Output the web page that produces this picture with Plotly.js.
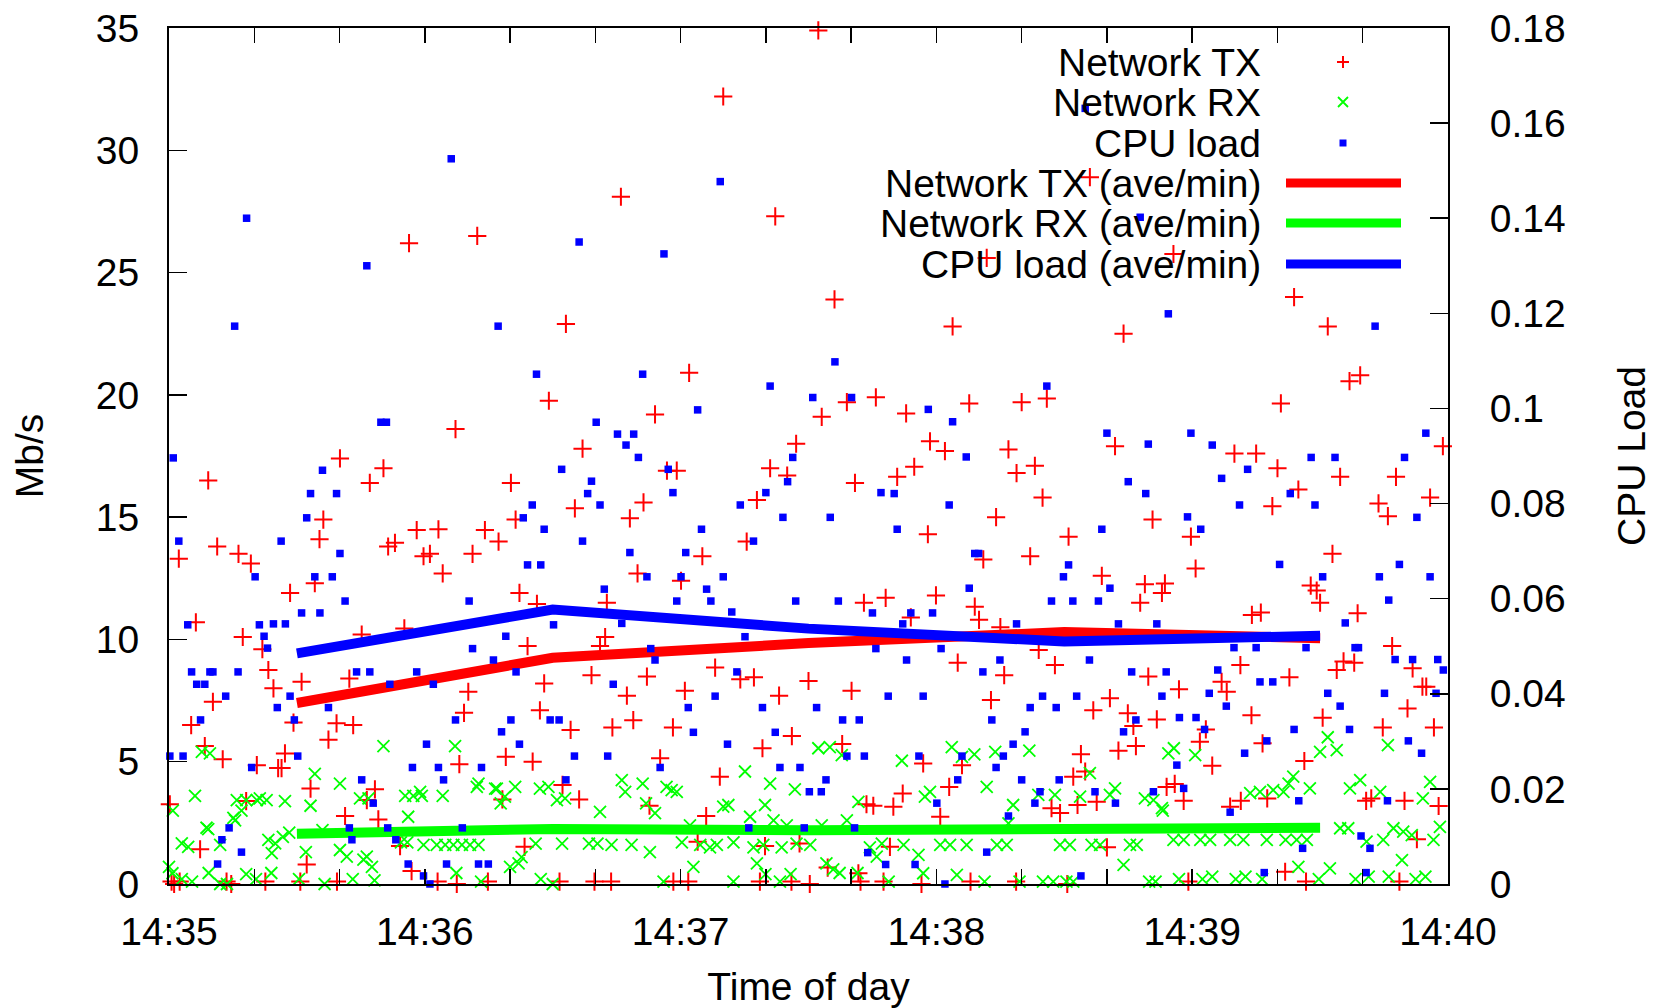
<!DOCTYPE html>
<html>
<head>
<meta charset="utf-8">
<script src="https://cdn.plot.ly/plotly-3.0.1.min.js"></script>
<style>html,body{margin:0;padding:0;background:#fff;}#chart{width:1653px;height:1008px;}</style>
</head>
<body>
<div id="chart"></div>
<script>
// ---- data (seconds after 14:35:00, value) ----
const txPoints = [
[0.2,3.26],[0.6,0.1],[1.2,0],[2.3,13.3],[2.5,0.1],[5.2,6.5],[6.3,10.7],[7.3,1.42],[8.4,5.64],[9.2,16.5],[10.3,7.45],[11.3,13.8],[12.6,5.1],[13.5,0.1],[14.6,0],[16.3,13.5],[17.3,10.1],[18.1,3.39],[19.2,13.1],[20.6,4.86],[21.9,9.6],[22.6,0.1],[23.3,8.75],[24.5,8.0],[25.6,4.74],[26.4,4.74],[27.2,5.34],[28.4,11.9],[29.2,6.6],[30.8,0.1],[31.1,8.27],[32.3,0.8],[33.2,3.9],[34.2,12.3],[35.3,14.1],[36.2,14.9],[37.4,5.9],[39.3,6.57],[39.4,0.1],[40.1,17.4],[41.3,2.78],[42.3,8.4],[43.2,6.5],[45.2,10.2],[46.4,3.43],[47.1,16.4],[48.3,3.87],[49.1,2.64],[50.3,17.0],[51.4,13.8],[53.0,13.95],[54.2,1.55],[55.2,10.45],[56.3,26.2],[56.9,0.53],[58.1,14.47],[59.7,13.4],[61.2,13.5],[63.0,0.1],[63.2,14.5],[64.2,12.7],[67.2,18.6],[67.5,0],[68.1,4.9],[69.2,7.0],[70.2,7.86],[71.2,13.5],[72.3,26.5],[74.1,14.47],[74.8,0.1],[77.3,14.0],[78.2,3.46],[79.0,5.2],[80.2,16.4],[81.3,14.9],[82.2,11.9],[83.4,1.52],[84.1,9.73],[85.3,5.0],[86.3,11.45],[87.0,7.1],[88.0,8.2],[89.1,19.76],[91.6,0.1],[92.3,4.05],[93.1,22.9],[94.2,6.3],[95.2,15.36],[96.2,3.46],[97.0,17.8],[99.1,8.54],[99.8,0.1],[101.1,9.73],[102.3,10.1],[102.7,11.5],[103.7,0.1],[104.0,6.4],
[106.0,28.1],[107.4,7.7],[108.1,14.95],[108.9,6.7],[109.9,12.7],[111.3,15.6],[112.1,8.48],[112.7,3.2],[114.0,19.2],[115.2,5.14],[116.8,16.9],[118.2,6.4],[118.3,0.1],[119.1,16.9],[120.1,12.4],[121.0,7.9],[121.8,0.1],[122.0,20.9],[124.0,1.73],[125.1,13.4],[126.0,2.78],[128.1,8.85],[129.2,4.39],[130.0,32.2],[134.0,8.37],[135.5,14.0],[137.2,8.45],[137.9,15.7],[138.6,0.1],[139.2,5.55],[139.8,1.55],[141.0,17.0],[142.2,27.3],[143.1,7.7],[145.0,16.7],[146.0,0.1],[146.1,6.05],[147.1,18.0],[147.9,1.66],[150.0,8.3],[150.3,0],[152.3,34.9],[153.1,19.1],[154.5,0.67],[156.1,23.9],[157.9,5.72],[159.0,19.7],[160.1,7.9],[160.9,16.4],[161.7,0.44],[162.2,0.1],[163.0,11.5],[163.6,3.26],[165.2,3.2],[165.8,19.9],[167.6,0.1],[168.1,11.7],
[169.1,1.52],[169.9,3.16],[170.8,16.65],[172.1,3.7],[172.9,19.24],[174.0,10.9],[174.8,17.06],[176.5,0],[176.9,4.93],[178.0,14.3],[178.5,18.1],[179.9,11.8],[180.9,2.75],[182.0,17.7],[183.0,3.97],[183.8,22.8],[185.0,9.05],[186.0,4.86],[187.7,19.65],[188.0,0.1],[189.0,11.34],[190.0,10.8],[191.0,13.27],[191.8,25.6],[192.8,7.52],[194.0,15.0],[195.0,10.5],[195.9,8.54],[196.9,17.77],[198.7,0.1],[198.8,16.8],[200.0,19.7],[202.0,13.4],[203.1,17.1],[204.0,9.57],[204.9,15.8],[205.9,19.85],[207.0,3.1],[207.8,8.95],[209.0,2.9],[210.7,0],[211.0,14.2],[212.1,4.39],[213.1,3.23],[213.9,5.31],[214.9,4.6],[216.0,28.9],[216.8,7.1],[217.6,3.36],[218.8,12.6],[220.0,1.5],[220.7,7.6],[221.9,17.9],[222.7,5.45],[223.9,22.5],[224.9,6.98],[226.2,6.46],[226.8,5.64],[227.8,11.5],[228.9,12.26],[229.7,8.48],[230.7,14.9],[231.7,6.73],[232.9,11.9],[233.6,12.29],[234.0,3.97],[235.6,25.76],
[235.9,4.09],[236.9,7.96],[238.0,3.4],[239.1,0.1],[239.7,14.2],[240.8,12.9],[241.8,5.82],[243.2,6.32],[244.7,4.84],[246.9,8.27],[248.1,7.86],[248.9,3.16],[249.9,17.6],[251.3,8.95],[251.4,3.4],[253.9,6.9],[254.0,11.0],[255.0,17.6],[256.1,11.1],[256.5,5.75],[257.6,3.5],[258.8,15.45],[260.0,17.0],[260.8,19.65],[261.8,0.5],[262.8,8.45],[263.9,24.0],[264.9,16.13],[266.3,5.03],[266.7,0.1],[267.8,12.2],[269.2,12.0],[270.0,11.5],[270.6,6.8],[271.8,22.8],[272.9,13.5],[273.9,8.75],[274.7,16.65],[275.5,9.1],[276.9,20.56],[278.0,9.05],[278.8,11.07],[279.4,20.8],[280.8,3.4],[282.0,3.5],[283.7,15.56],[284.7,6.4],[285.9,15.04],[286.9,9.73],[287.8,16.65],[288.6,0.1],[289.8,3.4],[290.5,7.18],[291.7,8.82],[292.7,1.83],[294.0,8.07],[294.9,8.07],[295.8,15.8],[296.7,6.4],[297.8,3.19],[298.8,17.9]
];

const rxPoints = [
[0,0.7],[0.8,0.44],[0.9,3.0],[3.0,0.2],[3.0,1.66],[4.5,1.52],[5.4,0.1],[6.1,3.6],[7.7,5.4],[8.8,2.3],[9.2,2.24],[9.3,0.45],[9.6,5.34],[12.0,1.6],[12.0,0],[13.6,0],[15.1,2.7],[15.5,2.6],[15.9,3.43],[17.0,3.0],[18.1,3.43],[18.1,0.4],[20.4,0.2],[20.6,3.43],[21.3,3.5],[22.9,3.43],[23.3,1.8],[24.0,0.45],[24.1,1.26],[24.9,1.66],[26.7,1.93],[27.2,3.39],[28.2,2.1],[30.5,0.2],[32.1,1.3],[33.2,3.2],[34.2,4.5],[36.0,2.2],[36.5,0],[40.1,4.1],[40.1,1.39],[41.7,1.12],[43.1,0.2],[44.8,3.5],[45.6,1.0],[46.4,1.12],[46.8,3.5],[47.6,0.7],[48.2,0.15],[50.3,5.64],[54.4,1.7],[55.4,3.6],[55.9,1.7],[56.1,2.75],[57.3,3.6],[58.9,3.77],[59.3,3.6],[59.7,1.6],[62.8,1.6],[64.2,3.6],[64.8,1.6],[66.7,1.6],[67.1,5.64],[67.4,0.45],[68.7,1.6],[70.6,1.6],[72.2,3.97],[72.6,1.6],[72.6,4.1],[73.2,0.1],[76.5,3.9],[76.9,3.9],[77.8,3.3],[78.8,3.57],[80.0,0.7],[81.2,3.97],[82.0,0.84],[82.7,1.1],[86.0,1.65],[87.0,3.9],[87.2,0.2],[89.0,3.97],[90.0,0],[91.0,3.43],[92.2,1.65],[92.9,3.5],[98.5,1.65],[100.5,1.65],[101.1,2.95],
[103.8,1.6],[106.2,4.25],[107.0,3.77],[108.5,1.6],[111.1,4.1],[111.9,3.3],[112.8,1.3],[114.0,2.9],[116.0,0.1],[116.7,3.97],[117.9,3.84],[119.1,3.77],[120.3,1.7],[122.2,2.4],[123.0,0.7],[124.6,1.6],[126.9,1.5],[128.5,1.6],[130.0,3.16],[131.2,3.23],[132.4,1.7],[132.4,0.1],[135.1,4.6],[136.3,2.75],[137.1,1.5],[137.9,0.84],[139.4,1.6],[139.8,3.23],[139.9,0.4],[141.0,4.1],[141.8,2.6],[143.3,0.1],[143.7,1.5],[144.9,2.4],[145.8,0.4],[146.8,3.87],[147.2,1.65],[150.4,1.6],[152.3,5.55],[153.1,2.4],[154.2,0.84],[155.0,5.6],[155.8,0.6],[157.3,0.45],[157.8,5.27],[159.0,2.6],[161.5,0.45],[161.7,3.36],[164.4,1.5],[166.0,1.12],[167.2,1.65],[168.8,0.1],
[171.9,5.04],[172.3,1.6],[175.8,1.19],[176.9,0.44],[177.3,3.57],[178.5,3.77],[180.9,1.6],[183.2,1.6],[183.6,5.6],[184.8,0.37],[186.0,5.2],[187.1,1.6],[188.9,5.3],[191.3,0.1],[191.8,3.97],[193.8,5.4],[194.2,1.6],[196.5,1.6],[196.9,2.48],[198.0,3.23],[199.5,0.1],[201.8,5.45],[203.9,3.64],[205.0,0.1],[207.4,0.1],[207.8,3.64],[209.0,1.6],[210.5,0.1],[211.3,1.6],[212.1,0.1],[213.7,3.57],[216.0,4.53],[216.4,1.6],[218.4,1.6],[220.7,3.64],[221.9,3.91],[223.9,0.78],[225.4,1.6],[227.0,1.6],[228.9,3.5],[229.9,0.1],[230.9,3.43],[231.4,0.1],[232.9,3.1],[233.1,3.0],[234.4,5.34],
[235.6,1.8],[235.7,5.55],[236.9,0.2],[238.0,1.8],[240.7,5.27],[241.9,1.8],[242.4,0.2],[244.2,1.8],[244.7,0.3],[248.9,1.8],[250.2,0.2],[252.0,1.8],[252.5,0.3],[253.6,3.72],[255.9,3.77],[256.4,0.2],[257.5,1.8],[259.0,3.84],[261.4,3.77],[261.9,1.8],[262.6,4.1],[263.7,4.39],[264.5,1.8],[264.9,0.7],[266.9,1.8],[267.6,3.91],[269.7,0.2],[270.0,5.4],[271.8,6.0],[272.3,0.64],[273.9,5.47],[274.7,2.28],[276.6,2.28],[277.0,3.91],[278.3,0.2],[279.4,4.25],[280.9,1.73],[281.4,0.3],[284.1,3.77],[284.8,1.8],[285.9,5.68],[286.1,0.3],[287.2,2.28],[289.2,0.98],[289.5,2.14],[291.5,2.0],[292.4,0.2],[294.1,3.5],[294.7,0.3],[295.8,4.18],[296.6,1.8],[298.1,2.34]
];

const cpuPoints = [
[0.2,0.0269],[1.0,0.0896],[2.3,0.0721],[3.3,0.0269],[4.4,0.0545],[5.3,0.0446],[6.5,0.042],[7.4,0.0345],[8.4,0.042],[9.6,0.0446],[10.3,0.0446],[11.4,0.0042],[12.4,0.0093],[13.3,0.0395],[14.1,0.0118],[15.4,0.1173],[16.2,0.0446],[17.0,0.0067],[18.2,0.140],[19.4,0.0245],[20.2,0.0646],[21.2,0.0545],[22.3,0.0521],[23.1,0.0496],[24.5,0.0547],[25.4,0.0371],[26.3,0.0721],[27.3,0.0547],[28.4,0.0395],[29.4,0.0345],[30.2,0.0269],[31.1,0.057],[32.3,0.077],[33.2,0.0821],[34.2,0.0646],[35.4,0.057],[36.0,0.087],[37.4,0.0371],[38.3,0.0646],[39.3,0.0821],[40.1,0.0695],[41.3,0.0595],[42.3,0.0118],[42.9,0.0093],[44.0,0.0446],[45.2,0.0219],[46.4,0.130],[47.1,0.0446],[47.9,0.017],[49.7,0.0971],[51.0,0.0971],[51.3,0.0118],[51.8,0.042],[53.2,0.0093],[56.1,0.0042],[57.1,0.0245],[58.1,0.0446],[59.7,0.0017],[60.4,0.0294],[61.2,0],[62.0,0.042],[63.2,0.0245],[64.4,0.0219],[65.1,0.0042],[66.2,0.1525],[67.2,0.0345],[68.8,0.0118],[70.4,0.0595],[71.2,0.0495],[72.6,0.0042],[73.3,0.0245],[74.9,0.0042],[76.1,0.0471],[77.2,0.1173],[78.0,0.032],[79.0,0.0521],[80.2,0.0345],[81.4,0.0446],[82.2,0.0294],[83.1,0.077],[84.1,0.0671],[85.2,0.0797],[86.2,0.1072],[87.2,0.0671],[88.0,0.0746],[89.4,0.0345],[90.2,0.0545],[91.5,0.0345],[92.1,0.0872],[93.1,0.0219],[95.1,0.0269],[96.2,0.135],[97.0,0.0721],[98.2,0.0821],[99.1,0.0847],[100.2,0.0971],[101.1,0.0797],[102.1,0.062],[102.9,0.0269],
[104.2,0.042],[105.2,0.0946],[106.2,0.0548],[107.2,0.0923],[108.1,0.0697],[109.0,0.0946],[110.1,0.0897],[111.1,0.1072],[112.1,0.0646],[113.0,0.0495],[114.0,0.0471],[115.2,0.0245],[116.1,0.1325],[117.1,0.0872],[118.2,0.0823],[119.1,0.0595],[120.1,0.0646],[121.2,0.0697],[121.8,0.0371],[123.0,0.0319],[124.0,0.0997],[124.9,0.0746],[126.1,0.062],[127.1,0.0595],[128.1,0.0395],[129.3,0.1477],[130.0,0.0646],[131.0,0.0294],[132.0,0.0572],[133.2,0.0446],[134.0,0.0797],[135.1,0.052],[136.0,0.0118],[137.1,0.0721],[139.2,0.0371],[140.0,0.0823],[141.0,0.1047],[142.2,0.0319],[143.3,0.0245],[144.0,0.0771],[145.1,0.0846],[146.3,0.0897],[147.0,0.0595],[148.0,0.0245],[149.0,0.0118],[150.2,0.0194],[151.0,0.1023],[151.9,0.0371],[153.0,0.0194],[154.1,0.0219],[155.1,0.0771],[156.2,0.1098],[157.0,0.0595],[158.0,0.0345],[159.0,0.0269],[160.1,0.1023],[160.8,0.0118],[161.9,0.0345],[163.1,0.0269],[163.9,0.0066],[165.0,0.057],[165.8,0.0495],[167.0,0.0823],[168.1,0.0041],[168.7,0.0395],
[170.1,0.0821],[170.8,0.0746],[172.1,0.0547],[173.0,0.0471],[174.0,0.057],[175.0,0.0041],[175.9,0.0269],[176.9,0.0395],[178.1,0.0998],[179.1,0.057],[180.1,0.017],[181.1,0.0495],[182.0,0],[183.0,0.0797],[183.8,0.0972],[185.0,0.0219],[186.0,0.0269],[187.0,0.0898],[187.7,0.0622],[189.0,0.0695],[189.9,0.0695],[190.9,0.0446],[191.8,0.0067],[193.0,0.0345],[194.0,0.0245],[194.9,0.0471],[195.7,0.0269],[196.9,0.0143],[198.0,0.0294],[198.8,0.0547],[200.0,0.0219],[200.8,0.032],[202.0,0.0371],[203.1,0.017],[204.3,0.0194],[204.9,0.0395],[205.9,0.1047],[207.0,0.0595],[208.1,0.0371],[208.8,0.0219],[209.8,0.0646],[211.0,0.0671],[212.0,0.0595],[212.9,0.0395],[213.9,0.0017],[214.9,0.1631],[215.9,0.0471],[217.2,0.0194],[218.0,0.0595],[218.8,0.0746],[220.0,0.0948],[220.7,0.0622],[222.0,0.017],[222.7,0.0547],[223.9,0.032],[225.0,0.0846],[225.8,0.0446],[226.8,0.0345],[227.8,0.1402],[229.1,0.0821],[229.7,0.0925],[230.9,0.0194],[231.7,0.0547],[232.9,0.0395],[233.9,0.0446],[234.4,0.1199],
[236.4,0.025],[237.0,0.035],[238.0,0.0201],[238.9,0.0772],[239.7,0.0948],[240.9,0.035],[242.0,0.0746],[242.9,0.0325],[244.0,0.0401],[244.7,0.0923],[246.0,0.045],[246.9,0.0853],[248.0,0.0374],[248.9,0.0151],[249.8,0.0497],[251.1,0.0797],[252.3,0.0275],[253.0,0.0872],[255.0,0.0497],[255.9,0.0425],[256.9,0.0024],[257.5,0.0301],[258.9,0.0425],[260.5,0.0672],[263.0,0.0821],[263.9,0.0325],[265.0,0.0175],[265.9,0.0075],[266.7,0.0497],[267.9,0.0897],[268.8,0.0797],[270.6,0.0646],[271.8,0.0401],[273.5,0.0897],[274.7,0.0374],[275.9,0.0549],[276.9,0.0325],[278.2,0.0497],[279.0,0.0497],[279.6,0.0101],[280.8,0.0024],[281.7,0.0075],[282.9,0.1173],[283.9,0.0646],[285.1,0.0401],[285.8,0.0175],[286.1,0.0597],[287.6,0.0472],[288.6,0.0672],[289.8,0.0897],[290.7,0.0301],[291.7,0.0472],[292.7,0.0771],[293.8,0.0275],[294.8,0.0948],[295.8,0.0646],[297.2,0.0401],[297.6,0.0472],[298.9,0.045]
];

// per-minute averages, plotted at the middle of each minute
const avgSec = [30, 90, 150, 210, 270];
const txAvg  = [7.4, 9.25, 9.85, 10.3, 10.05];
const rxAvg  = [2.05, 2.25, 2.2, 2.25, 2.3];
const cpuAvg = [0.0485, 0.0577, 0.0537, 0.051, 0.0522];

const legendLabels = ['Network TX', 'Network RX', 'CPU load',
  'Network TX (ave/min)', 'Network RX (ave/min)', 'CPU load (ave/min)'];
const cpuTickVals = [0, 0.02, 0.04, 0.06, 0.08, 0.1, 0.12, 0.14, 0.16, 0.18];
const cpuTickText = ['0', '0.02', '0.04', '0.06', '0.08', '0.1', '0.12', '0.14', '0.16', '0.18'];

// ---- helpers ----
const T0 = Date.UTC(2000, 0, 1, 14, 35, 0);
const toTime = s => T0 + s * 1000;

const RED = 'rgb(255,0,0)', GREEN = 'rgb(0,255,0)', BLUE = 'rgb(0,0,255)';
const FONT = 'Liberation Sans, Arial, Helvetica, sans-serif';
const FS = 39;

const traces = [
  { type: 'scatter', mode: 'markers', name: legendLabels[0],
    x: txPoints.map(p => toTime(p[0])), y: txPoints.map(p => p[1]),
    marker: { symbol: 'cross-thin-open', size: 13, color: RED, line: { color: RED, width: 2 } },
    cliponaxis: false, showlegend: false },
  { type: 'scatter', mode: 'markers', name: legendLabels[1],
    x: rxPoints.map(p => toTime(p[0])), y: rxPoints.map(p => p[1]),
    marker: { symbol: 'x-thin-open', size: 12, color: GREEN, line: { color: GREEN, width: 1.8 } },
    cliponaxis: false, showlegend: false },
  { type: 'scatter', mode: 'markers', name: legendLabels[2], yaxis: 'y2',
    x: cpuPoints.map(p => toTime(p[0])), y: cpuPoints.map(p => p[1]),
    marker: { symbol: 'square', size: 7.5, color: BLUE },
    cliponaxis: false, showlegend: false },
  { type: 'scatter', mode: 'lines', name: legendLabels[3],
    x: avgSec.map(toTime), y: txAvg, line: { color: RED, width: 10 }, showlegend: false },
  { type: 'scatter', mode: 'lines', name: legendLabels[4],
    x: avgSec.map(toTime), y: rxAvg, line: { color: GREEN, width: 10 }, showlegend: false },
  { type: 'scatter', mode: 'lines', name: legendLabels[5], yaxis: 'y2',
    x: avgSec.map(toTime), y: cpuAvg, line: { color: BLUE, width: 10 }, showlegend: false }
];

// ---- custom legend (text right-aligned, sample on the right, like gnuplot) ----
const L = 169, R = 1448, TOP = 28, BOT = 884;
const px = x => (x - L) / (R - L);
const py = y => (BOT - y) / (BOT - TOP);
const rowY = [62, 102, 143, 183, 223, 264];
const annotations = legendLabels.map((t, i) => ({
  xref: 'paper', yref: 'paper', x: px(1263), y: py(rowY[i]),
  xanchor: 'right', yanchor: 'middle', text: t, showarrow: false,
  font: { family: FONT, size: FS, color: '#000' }
}));
const mx = 1343;
const shapes = [];
shapes.push({ type: 'path', xref: 'paper', yref: 'paper',
  path: `M ${px(mx-6)},${py(rowY[0])} L ${px(mx+6)},${py(rowY[0])} M ${px(mx)},${py(rowY[0]-6)} L ${px(mx)},${py(rowY[0]+6)}`,
  line: { color: RED, width: 2 } });
shapes.push({ type: 'path', xref: 'paper', yref: 'paper',
  path: `M ${px(mx-5)},${py(rowY[1]-5)} L ${px(mx+5)},${py(rowY[1]+5)} M ${px(mx-5)},${py(rowY[1]+5)} L ${px(mx+5)},${py(rowY[1]-5)}`,
  line: { color: GREEN, width: 1.8 } });
shapes.push({ type: 'rect', xref: 'paper', yref: 'paper',
  x0: px(mx-3.5), x1: px(mx+3.5), y0: py(rowY[2]+3.5), y1: py(rowY[2]-3.5),
  fillcolor: BLUE, line: { width: 0 } });
[RED, GREEN, BLUE].forEach((c, k) => {
  shapes.push({ type: 'line', xref: 'paper', yref: 'paper',
    x0: px(1286), x1: px(1401), y0: py(rowY[3+k]), y1: py(rowY[3+k]),
    line: { color: c, width: 9 } });
});

const layout = {
  width: 1653, height: 1008,
  margin: { l: L, r: 1653 - R, t: TOP, b: 1008 - BOT, pad: 0 },
  paper_bgcolor: '#fff', plot_bgcolor: '#fff',
  font: { family: FONT, size: FS, color: '#000' },
  showlegend: false,
  xaxis: {
    type: 'date', range: [toTime(0), toTime(300)],
    tick0: toTime(0), dtick: 60000, tickformat: '%H:%M',
    ticks: 'inside', ticklen: 15, tickwidth: 1.5, tickcolor: '#000',
    minor: { dtick: 20000, ticks: 'inside', ticklen: 7, tickwidth: 1.5, tickcolor: '#000', showgrid: false },
    showline: true, linecolor: '#000', linewidth: 2, mirror: 'allticks',
    showgrid: false, zeroline: false, ticklabelstandoff: 12,
    tickfont: { family: FONT, size: FS, color: '#000' },
    title: { text: 'Time of day', font: { family: FONT, size: FS, color: '#000' }, standoff: 21 }
  },
  yaxis: {
    range: [0, 35], dtick: 5, tick0: 0,
    ticks: 'inside', ticklen: 18, tickwidth: 1.5, tickcolor: '#000',
    showline: true, linecolor: '#000', linewidth: 2, mirror: false,
    showgrid: false, zeroline: false, ticklabelstandoff: 20,
    tickfont: { family: FONT, size: FS, color: '#000' },
    title: { text: 'Mb/s', font: { family: FONT, size: FS, color: '#000' }, standoff: 40 }
  },
  yaxis2: {
    overlaying: 'y', side: 'right', range: [0, 0.18],
    tickmode: 'array', tickvals: cpuTickVals, ticktext: cpuTickText,
    ticks: 'inside', ticklen: 18, tickwidth: 1.5, tickcolor: '#000',
    showline: true, linecolor: '#000', linewidth: 2,
    showgrid: false, zeroline: false, ticklabelstandoff: 32,
    tickfont: { family: FONT, size: FS, color: '#000' },
    title: { text: 'CPU Load', font: { family: FONT, size: FS, color: '#000' }, standoff: 54 }
  },
  annotations: annotations,
  shapes: shapes
};

Plotly.newPlot('chart', traces, layout, { staticPlot: true, displayModeBar: false });
</script>
</body>
</html>
